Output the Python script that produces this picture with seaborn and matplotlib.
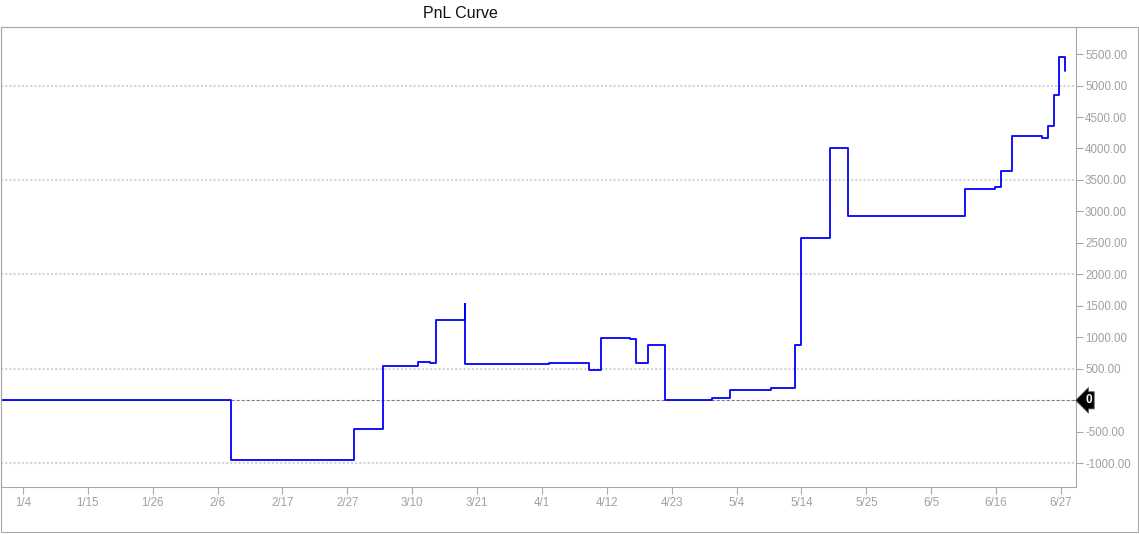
import numpy as np
import pandas as pd
import matplotlib
matplotlib.use("Agg")
import matplotlib.pyplot as plt
import matplotlib.dates as mdates
import matplotlib.transforms as mtransforms
from matplotlib.patches import Rectangle
import seaborn as sns

sns.set_style("white")
plt.rcParams['font.family'] = ['Liberation Sans', 'DejaVu Sans']

# step times (value holds from this time on) and PnL levels
times = [
    "2023-12-31 00:00", "2024-02-08 00:00", "2024-02-28 21:00", "2024-03-04 18:00",
    "2024-03-10 14:00", "2024-03-12 15:00", "2024-03-13 15:00", "2024-03-18 14:00",
    "2024-03-18 14:00", "2024-04-01 15:00", "2024-04-08 12:00", "2024-04-10 12:00",
    "2024-04-15 09:00", "2024-04-16 10:00", "2024-04-18 10:00", "2024-04-21 07:00",
    "2024-04-29 05:00", "2024-05-02 06:00", "2024-05-09 04:00", "2024-05-13 05:00",
    "2024-05-14 05:00", "2024-05-19 03:00", "2024-05-22 04:00", "2024-06-10 21:00",
    "2024-06-15 22:00", "2024-06-16 23:00", "2024-06-18 19:00", "2024-06-23 21:00",
    "2024-06-24 21:00", "2024-06-25 19:00", "2024-06-26 17:00", "2024-06-27 18:00",
]
pnl = [
    0, -950, -460, 545,
    613, 597, 1277, 1532,
    578, 592, 481, 990,
    975, 592, 879, 3,
    35, 162, 194, 879,
    2583, 4000, 2933, 3363,
    3395, 3650, 4191, 4164,
    4350, 4844, 5449, 5236,
]

x_labels = ["1/4", "1/15", "1/26", "2/6", "2/17", "2/27", "3/10", "3/21", "4/1",
            "4/12", "4/23", "5/4", "5/14", "5/25", "6/5", "6/16", "6/27"]
y_ticks = np.arange(-1000, 5501, 500)
grid_levels = [-1000, 500, 2000, 3500, 5000]

df = pd.DataFrame({"time": pd.to_datetime(times), "pnl": pnl})

W, H = 1139, 534
fig = plt.figure(figsize=(W / 100, H / 100), dpi=100)
ax = fig.add_axes([1 / W, 1 - 487 / H, 1075 / W, (487 - 27) / H])

for g in grid_levels:
    ax.axhline(g, color="#d4d4d4", lw=1.5, ls=(0, (1, 1)), zorder=0)
ax.axhline(0, color="#808080", lw=0.8, ls=(0, (3, 1.5)), zorder=1)

sns.lineplot(data=df, x="time", y="pnl", estimator=None, sort=False,
             drawstyle="steps-post", color="#0000ff", lw=1.3, ax=ax)

# axes ranges
d0 = mdates.date2num(pd.Timestamp("2024-01-04"))
span = 175
ax.set_xlim(d0 - 3.71, d0 + 177.54)
ax.set_ylim(-1377, 5930)

ax.set_xticks(np.linspace(d0, d0 + span, len(x_labels)))
ax.set_xticklabels(x_labels)
ax.set_xticks(np.linspace(d0, d0 + span, 3 * (len(x_labels) - 1) + 1), minor=True)

ax.yaxis.tick_right()
ax.set_yticks(y_ticks)
ax.set_yticklabels(["" if v == 0 else f"{v:.2f}" for v in y_ticks])

ax.set_xlabel("")
ax.set_ylabel("")
ax.tick_params(axis="both", which="both", direction="out", length=5, width=0.8,
               color="#a8a8a8", labelcolor="#a0a0a0", labelsize=8.3)
ax.tick_params(axis="x", pad=2.5)
ax.tick_params(axis="y", pad=1.5)
ax.tick_params(left=False, right=True, bottom=True)
for s in ax.spines.values():
    s.set_color("#a8a8a8")
    s.set_linewidth(0.8)

# zero tag on the right axis
trans = mtransforms.blended_transform_factory(ax.transAxes, ax.transData)
ax.annotate("0", xy=(1, 0), xycoords=trans, xytext=(9, 0), textcoords="offset pixels",
            ha="left", va="center", color="white", fontsize=8.5, fontweight="bold",
            bbox=dict(boxstyle="larrow,pad=0.22", fc="black", ec="#666666", lw=0.6),
            annotation_clip=False)

# outer frame and title
fig.add_artist(Rectangle((1 / W, 1 - 532 / H), 1137 / W, (532 - 27) / H,
                         transform=fig.transFigure, fill=False,
                         edgecolor="#a8a8a8", lw=0.8))
fig.text(460 / W, 1 - 14 / H, "PnL Curve", ha="center", va="center",
         fontsize=11.5, color="#111111")

fig.savefig("out.png", dpi=100)
